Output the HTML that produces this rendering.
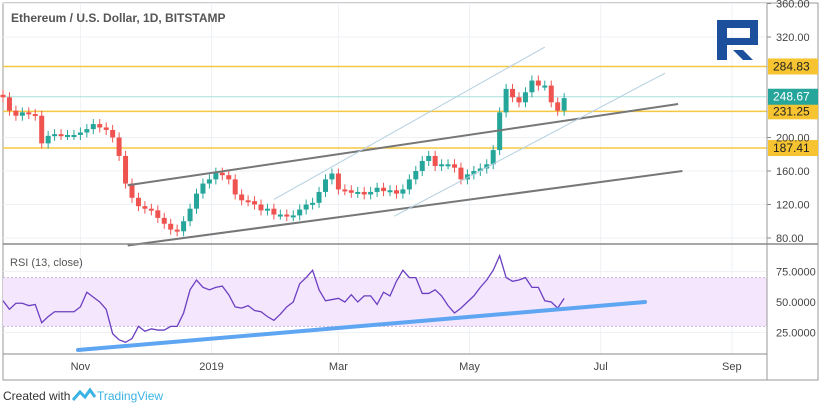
<!DOCTYPE html>
<html><head><meta charset="utf-8"><style>
html,body{margin:0;padding:0;background:#fff;width:820px;height:412px;overflow:hidden}
svg{display:block;font-family:"Liberation Sans",sans-serif}
</style></head><body>
<svg id="chart" width="820" height="412" viewBox="0 0 820 412">
<rect x="3" y="3" width="815" height="377" fill="#fff" stroke="#9a9a9a"/>
<g id="grid"></g>
<g id="levels"></g>
<g id="candles"></g>
<g id="trend"></g>
<g id="rsi"></g>
<g id="axes"></g>
<line x1="767" y1="3" x2="767" y2="380" stroke="#9a9a9a"/>
<line x1="3" y1="244" x2="818" y2="244" stroke="#8a8a8a" stroke-width="1.5"/>
<line x1="3" y1="354" x2="767" y2="354" stroke="#8a8a8a"/>
<text x="11" y="22" font-size="12" fill="#555" font-weight="bold">Ethereum / U.S. Dollar, 1D, BITSTAMP</text>
<text x="10" y="266" font-size="11" fill="#555">RSI (13, close)</text>
<g fill="#1c4f9c">
<rect x="717" y="20" width="10" height="40"/><rect x="717" y="20" width="41" height="8"/><rect x="750" y="20" width="8" height="25"/><rect x="727" y="38" width="31" height="7"/><polygon points="733,50 743,50 753,60 743,60"/>
</g>
<text x="3" y="400" font-size="12" fill="#333">Created with</text>
<path d="M73 400 L80 392 L85 397 L90 390 L95 397" fill="none" stroke="#3bb3e4" stroke-width="3"/>
<text x="97" y="400" font-size="12" fill="#3bb3e4">TradingView</text>
</svg>
<script>
const closes=[248,232,226,230,228,226,193,202,204,203,203,203,206,210,216,212,209,200,178,145,128,118,115,113,104,97,90,88,100,115,133,145,150,158,155,150,132,125,124,120,113,115,108,108,106,107,114,120,122,135,150,157,138,137,134,135,132,135,140,136,137,133,138,150,160,172,178,166,168,168,164,150,156,160,163,168,185,230,258,248,242,254,268,262,262,242,232,247];
const rsiValues=[51,44,49,49,47,48,33,38,42,42,42,42,46,58,54,50,44,24,19,17,20,30,26,28,27,27,30,30,41,60,68,62,60,62,63,56,46,45,47,43,42,38,35,40,46,50,65,70,76,60,51,52,53,50,56,50,55,55,48,58,55,67,76,70,70,57,57,60,55,47,41,45,50,55,62,68,76,88,70,67,68,70,62,62,51,50,45,53];
const priceTicks=[80,120,160,200,320,360];
const rsiTicks=[25,50,75];
const levelPrices=[284.83,231.25,187.41];
const lastPrice=248.67;
const monthLabels=["Nov","2019","Mar","May","Jul","Sep"];
const monthDays=[36,97,156,217,278,339];
const SVGNS="http://www.w3.org/2000/svg";
const X0=3,PXD=2.15,STEP=3;
const xd=d=>X0+d*PXD;
const yp=p=>238-(p-80)*0.8375;
const yr=v=>302-(v-50)*1.22;
function mk(tag,attrs,parent){const e=document.createElementNS(SVGNS,tag);for(const k in attrs)e.setAttribute(k,attrs[k]);parent.appendChild(e);return e;}
const G=id=>document.getElementById(id);
monthDays.forEach((d,i)=>{
 const l=mk('line',{x1:xd(d),x2:xd(d),y1:3,y2:354,stroke:'#eef1f5'},G('grid'));
 
 
 const t=mk('text',{x:xd(d),y:370,'font-size':11,fill:'#444','text-anchor':'middle'},G('axes'));
 t.textContent=monthLabels[i];
 
 
});
priceTicks.forEach(p=>{
 const l=mk('line',{x1:3,x2:767,y1:yp(p),y2:yp(p),stroke:'#eef1f5'},G('grid'));
 
 
 mk('line',{x1:767,x2:771,y1:yp(p),y2:yp(p),stroke:'#888'},G('axes'));
 const t=mk('text',{x:776,y:yp(p)+4,'font-size':11,fill:'#444'},G('axes'));
 t.textContent=p.toFixed(2);
 
 
});
rsiTicks.forEach(v=>{
 mk('line',{x1:3,x2:767,y1:yr(v),y2:yr(v),stroke:'#eef1f5'},G('grid'));
 const t=mk('text',{x:776,y:yr(v)+4,'font-size':11,fill:'#444'},G('axes'));
 t.textContent=v.toFixed(4);
 
 
});
levelPrices.forEach(p=>{
 const l=mk('line',{x1:3,x2:767,y1:yp(p),y2:yp(p),stroke:'#f5c842','stroke-width':1.5},G('levels'));
 
 
 const r=mk('rect',{x:768,y:yp(p)-8,width:50,height:16,fill:'#f5c430'},G('levels'));
 
 
 const t=mk('text',{x:773,y:yp(p)+4,'font-size':12,fill:'#222'},G('levels'));
 t.textContent=p.toFixed(2);
 
 
});
{
 mk('line',{x1:3,x2:767,y1:yp(lastPrice),y2:yp(lastPrice),stroke:'#a8e0dc'},G('levels'));
 const r=mk('rect',{x:768,y:yp(lastPrice)-8,width:50,height:16,fill:'#26a69a'},G('levels'));
 
 
 const t=mk('text',{x:773,y:yp(lastPrice)+4,'font-size':12,fill:'#fff'},G('levels'));
 t.textContent=lastPrice.toFixed(2);
 
 
}
closes.forEach((c,i)=>{
 const o=i?closes[i-1]:c+3;
 const x=xd(i*STEP);
 const up=c>=o,col=up?'#26a69a':'#ef5350';
 const hi=Math.max(o,c)+6,lo=Math.min(o,c)-6;
 mk('line',{x1:x,x2:x,y1:yp(hi),y2:yp(lo),stroke:col},G('candles'));
 const r=mk('rect',{x:x-2.5,y:yp(Math.max(o,c)),width:5,height:Math.max(2,Math.abs(yp(o)-yp(c))),fill:col},G('candles'));
 
 
});
const tl=[
 [[58,143],[314,240],'#777',2],
 [[58,71],[316,160],'#777',2],
 [[126,126],[252,308],'#b3cfe0',1],
 [[182,106],[308,277],'#b3cfe0',1]
];
tl.forEach(t=>{
 const l=mk('line',{x1:xd(t[0][0]),y1:yp(t[0][1]),x2:xd(t[1][0]),y2:yp(t[1][1]),stroke:t[2],'stroke-width':t[3]},G('trend'));
 
 
});
const band=mk('rect',{x:3,y:yr(70),width:764,height:yr(30)-yr(70),fill:'#f3e6fd'},G('rsi'));


[70,30].forEach(v=>mk('line',{x1:3,x2:767,y1:yr(v),y2:yr(v),stroke:'#c9b4dc','stroke-dasharray':'2,2'},G('rsi')));
const rl=mk('polyline',{points:rsiValues.map((v,i)=>xd(i*STEP)+','+yr(v)).join(' '),fill:'none',stroke:'#6c3fc0','stroke-width':1.3},G('rsi'));


const bl=mk('line',{x1:78,y1:350,x2:645,y2:302,stroke:'#5ea5f2','stroke-width':4,'stroke-linecap':'round'},G('rsi'));


</script>
</body></html>
